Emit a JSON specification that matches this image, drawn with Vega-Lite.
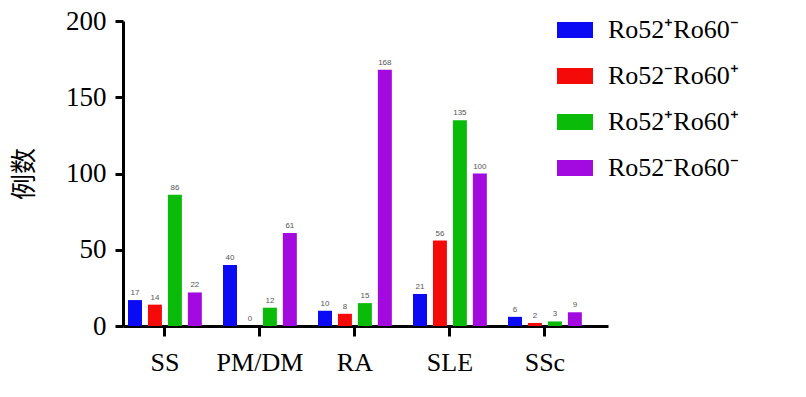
{
  "$schema": "https://vega.github.io/schema/vega-lite/v6.json",
  "autosize": "none",
  "width": 485,
  "height": 305,
  "padding": {"left": 123, "top": 21, "right": 198, "bottom": 71},
  "background": "white",
  "config": {"view": {"stroke": null}},
  "data": {
    "values": [
      {"disease": "SS", "group": "Ro52⁺Ro60⁻", "n": 17},
      {"disease": "SS", "group": "Ro52⁻Ro60⁺", "n": 14},
      {"disease": "SS", "group": "Ro52⁺Ro60⁺", "n": 86},
      {"disease": "SS", "group": "Ro52⁻Ro60⁻", "n": 22},
      {"disease": "PM/DM", "group": "Ro52⁺Ro60⁻", "n": 40},
      {"disease": "PM/DM", "group": "Ro52⁻Ro60⁺", "n": 0},
      {"disease": "PM/DM", "group": "Ro52⁺Ro60⁺", "n": 12},
      {"disease": "PM/DM", "group": "Ro52⁻Ro60⁻", "n": 61},
      {"disease": "RA", "group": "Ro52⁺Ro60⁻", "n": 10},
      {"disease": "RA", "group": "Ro52⁻Ro60⁺", "n": 8},
      {"disease": "RA", "group": "Ro52⁺Ro60⁺", "n": 15},
      {"disease": "RA", "group": "Ro52⁻Ro60⁻", "n": 168},
      {"disease": "SLE", "group": "Ro52⁺Ro60⁻", "n": 21},
      {"disease": "SLE", "group": "Ro52⁻Ro60⁺", "n": 56},
      {"disease": "SLE", "group": "Ro52⁺Ro60⁺", "n": 135},
      {"disease": "SLE", "group": "Ro52⁻Ro60⁻", "n": 100},
      {"disease": "SSc", "group": "Ro52⁺Ro60⁻", "n": 6},
      {"disease": "SSc", "group": "Ro52⁻Ro60⁺", "n": 2},
      {"disease": "SSc", "group": "Ro52⁺Ro60⁺", "n": 3},
      {"disease": "SSc", "group": "Ro52⁻Ro60⁻", "n": 9}
    ]
  },
  "encoding": {
    "x": {
      "field": "disease",
      "type": "nominal",
      "sort": ["SS", "PM/DM", "RA", "SLE", "SSc"],
      "scale": {"paddingInner": 0.16, "paddingOuter": 0.1326, "align": 0.08},
      "axis": {
        "title": null,
        "labelAngle": 0,
        "labelFont": "Liberation Serif",
        "labelFontSize": 26,
        "labelColor": "black",
        "labelPadding": 13,
        "domainColor": "black",
        "domainWidth": 3,
        "tickColor": "black",
        "tickWidth": 3,
        "tickSize": 10
      }
    },
    "xOffset": {
      "field": "group",
      "type": "nominal",
      "sort": ["Ro52⁺Ro60⁻", "Ro52⁻Ro60⁺", "Ro52⁺Ro60⁺", "Ro52⁻Ro60⁻"],
      "scale": {"paddingInner": 0.3, "paddingOuter": 0.15}
    },
    "y": {
      "field": "n",
      "type": "quantitative",
      "scale": {"domain": [0, 200], "nice": false},
      "axis": {
        "title": "例数",
        "titleFont": "Noto Sans CJK SC",
        "titleFontSize": 26,
        "titleFontWeight": "normal",
        "titleColor": "black",
        "titlePadding": 28,
        "values": [0, 50, 100, 150, 200],
        "grid": false,
        "labelFont": "Liberation Serif",
        "labelFontSize": 27,
        "labelColor": "black",
        "labelPadding": 9,
        "domainColor": "black",
        "domainWidth": 3,
        "tickColor": "black",
        "tickWidth": 3,
        "tickSize": 8
      }
    }
  },
  "layer": [
    {
      "mark": {"type": "bar"},
      "encoding": {
        "color": {
          "field": "group",
          "type": "nominal",
          "sort": ["Ro52⁺Ro60⁻", "Ro52⁻Ro60⁺", "Ro52⁺Ro60⁺", "Ro52⁻Ro60⁻"],
          "scale": {
            "domain": ["Ro52⁺Ro60⁻", "Ro52⁻Ro60⁺", "Ro52⁺Ro60⁺", "Ro52⁻Ro60⁻"],
            "range": ["#0a0af5", "#f50a0a", "#0abb0a", "#a20ae0"]
          },
          "legend": {
            "title": null,
            "orient": "none",
            "legendX": 434,
            "legendY": -9,
            "symbolType": "M-1,-0.44H1V0.44H-1Z",
            "symbolSize": 1296,
            "symbolStrokeWidth": 0,
            "symbolOpacity": 1,
            "labelFont": "Liberation Serif",
            "labelFontSize": 26,
            "labelColor": "black",
            "labelOffset": 15,
            "labelLimit": 300,
            "rowPadding": 15
          }
        }
      }
    },
    {
      "mark": {"type": "text", "dy": -7, "fontSize": 8, "color": "#555555", "font": "Liberation Sans"},
      "encoding": {
        "text": {"field": "n", "type": "quantitative"}
      }
    }
  ]
}
